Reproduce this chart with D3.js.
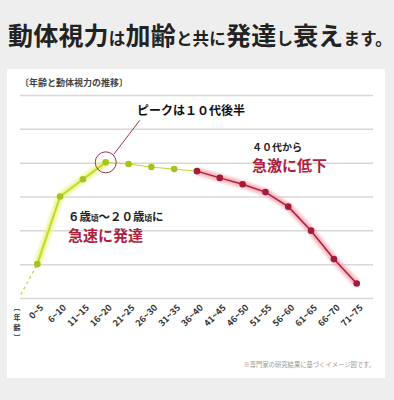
<!DOCTYPE html>
<html>
<head>
<meta charset="utf-8">
<script src="https://cdn.jsdelivr.net/npm/d3@7"></script>
<style>
  body { margin: 0; background: #eeeeee; }
  svg { display: block; font-family: "Noto Sans CJK JP", "Noto Sans", sans-serif; }
</style>
</head>
<body>
<div id="chart"></div>
<script>
// age groups on the x axis
const categories = ["0~5", "6~10", "11~15", "16~20", "21~25", "26~30", "31~35", "36~40",
                    "41~45", "46~50", "51~55", "56~60", "61~65", "66~70", "71~75"];
// relative dynamic vision (image values, grid units)
const visionValues = [1.0, 3.0, 3.51, 4.01, 3.96, 3.87, 3.81, 3.75,
                      3.55, 3.36, 3.13, 2.70, 1.99, 1.15, 0.43];
const gridTicks = [0, 1, 2, 3, 4, 5, 6];
const leadInValue = 0.1;     // dashed start before 0~5
const peakIndex = 3;         // 16~20
const declineIndex = 7;      // 36~40

const titleParts = [
  ["動体視力", "L"], ["は", "S"], ["加齢", "L"], ["と共に", "S"],
  ["発達", "L"], ["し", "S"], ["衰え", "L"], ["ます。", "S"]
];
// vertical axis label, drawn one glyph per line
const axisLabelChars = ["︹", "年", "齢", "︺"];

const W = 394, H = 400;
const GREEN = "#c3d82a", GREEN_DOT = "#a6c41c", GREEN_GLOW = "#e8f27a";
const RED = "#ad1f3f", RED_DOT = "#a51a3a", RED_GLOW = "#f39aa6";

const svg = d3.select("#chart").append("svg")
  .attr("width", W).attr("height", H);

const defs = svg.append("defs");
defs.append("filter").attr("id", "glow")
  .attr("x", "-10%").attr("y", "-10%").attr("width", "120%").attr("height", "120%")
  .append("feGaussianBlur").attr("stdDeviation", 1.6);

// title
const title = svg.append("text")
  .attr("x", 8).attr("y", 45)
  .attr("fill", "#222")
  .attr("font-weight", 700)
  .attr("letter-spacing", 0.2);
title.selectAll("tspan")
  .data(titleParts)
  .enter().append("tspan")
  .attr("font-size", d => d[1] === "L" ? 25 : 16.5)
  .text(d => d[0]);

// white card
svg.append("rect")
  .attr("x", 7).attr("y", 69)
  .attr("width", 378).attr("height", 309)
  .attr("fill", "#fff");

svg.append("text")
  .attr("x", 20).attr("y", 86)
  .attr("font-size", 9).attr("font-weight", 700)
  .attr("fill", "#444")
  .text("〔年齢と動体視力の推移〕");

// scales
const x = d3.scalePoint().domain(categories).range([37.3, 356.7]);
const y = d3.scaleLinear().domain([0, 6]).range([298, 95]);

// grid
svg.append("g")
  .attr("transform", "translate(20,0)")
  .call(d3.axisLeft(y).tickValues(gridTicks).tickSize(-353).tickFormat(""))
  .call(g => g.select(".domain").remove())
  .call(g => g.selectAll(".tick line").attr("stroke", "#d8d8d8").attr("stroke-width", 1.5));

// x axis labels
const xAxis = svg.append("g")
  .attr("transform", "translate(0,306)")
  .call(d3.axisBottom(x).tickSize(0).tickPadding(0));
xAxis.select(".domain").remove();
xAxis.selectAll(".tick text")
  .attr("font-family", "\"Noto Sans CJK JP\", sans-serif")
  .attr("font-size", 9).attr("font-weight", 700)
  .attr("fill", "#333")
  .attr("text-anchor", "end")
  .attr("dy", "0.35em")
  .attr("transform", "translate(4,0) rotate(-45)");

svg.selectAll(".axis-char")
  .data(axisLabelChars)
  .enter().append("text")
  .attr("class", "axis-char")
  .attr("x", 17)
  .attr("y", (d, i) => 310 + i * 10)
  .attr("font-size", 7).attr("font-weight", 700)
  .attr("fill", "#333")
  .attr("text-anchor", "middle")
  .text(d => d);

const pts = visionValues.map((v, i) => ({ cat: categories[i], v, i }));
const line = d3.line().x(d => x(d.cat)).y(d => y(d.v));

// dashed lead-in
const step = x.step();
svg.append("line")
  .attr("x1", x(categories[0]) - step * 0.72).attr("y1", y(leadInValue))
  .attr("x2", x(categories[0])).attr("y2", y(visionValues[0]))
  .attr("stroke", GREEN).attr("stroke-width", 1.2)
  .attr("stroke-dasharray", "3,3");

const rise = pts.slice(0, peakIndex + 1);
const plateau = pts.slice(peakIndex, declineIndex + 1);
const decline = pts.slice(declineIndex);

svg.append("path").datum(rise).attr("d", line)
  .attr("fill", "none").attr("stroke", GREEN_GLOW).attr("stroke-width", 7)
  .attr("stroke-opacity", 0.8).attr("filter", "url(#glow)");
svg.append("path").datum(rise).attr("d", line)
  .attr("fill", "none").attr("stroke", GREEN).attr("stroke-width", 2);

svg.append("path").datum(plateau).attr("d", line)
  .attr("fill", "none").attr("stroke", GREEN).attr("stroke-width", 1);

svg.append("path").datum(decline).attr("d", line)
  .attr("fill", "none").attr("stroke", RED_GLOW).attr("stroke-width", 7)
  .attr("stroke-opacity", 0.75).attr("filter", "url(#glow)");
svg.append("path").datum(decline).attr("d", line)
  .attr("fill", "none").attr("stroke", RED).attr("stroke-width", 1.5);

svg.selectAll(".dot")
  .data(pts)
  .enter().append("circle")
  .attr("class", "dot")
  .attr("cx", d => x(d.cat)).attr("cy", d => y(d.v))
  .attr("r", 3.3)
  .attr("fill", d => d.i < declineIndex ? GREEN_DOT : RED_DOT);

// peak callout
const px = x(categories[peakIndex]), py = y(visionValues[peakIndex]);
svg.append("circle")
  .attr("cx", px).attr("cy", py).attr("r", 10.5)
  .attr("fill", "none").attr("stroke", "#a3304c").attr("stroke-width", 1);
svg.append("line")
  .attr("x1", px + 8).attr("y1", py - 8)
  .attr("x2", px + 34).attr("y2", py - 42)
  .attr("stroke", "#a3304c").attr("stroke-width", 1);
svg.append("text")
  .attr("x", 137).attr("y", 115)
  .attr("font-size", 12).attr("font-weight", 700).attr("fill", "#111")
  .text("ピークは１０代後半");

// annotations
svg.append("text")
  .attr("x", 252).attr("y", 151)
  .attr("font-size", 10).attr("font-weight", 700).attr("fill", "#222")
  .text("４０代から");
svg.append("text")
  .attr("x", 252).attr("y", 171)
  .attr("font-size", 15).attr("font-weight", 700).attr("fill", RED)
  .text("急激に低下");

const growth = svg.append("text")
  .attr("x", 68).attr("y", 221)
  .attr("font-weight", 700).attr("fill", "#222");
[["６歳", 11.5], ["頃", 7.5], ["～２０歳", 11.5], ["頃", 7.5], ["に", 11.5]].forEach(([t, s]) => {
  growth.append("tspan").attr("font-size", s).text(t);
});
svg.append("text")
  .attr("x", 68).attr("y", 241)
  .attr("font-size", 15).attr("font-weight", 700).attr("fill", RED)
  .text("急速に発達");

svg.append("text")
  .attr("x", 375).attr("y", 367)
  .attr("text-anchor", "end")
  .attr("font-size", 6.3).attr("fill", "#999")
  .text("※専門家の研究結果に基づくイメージ図です。");
</script>
</body>
</html>
